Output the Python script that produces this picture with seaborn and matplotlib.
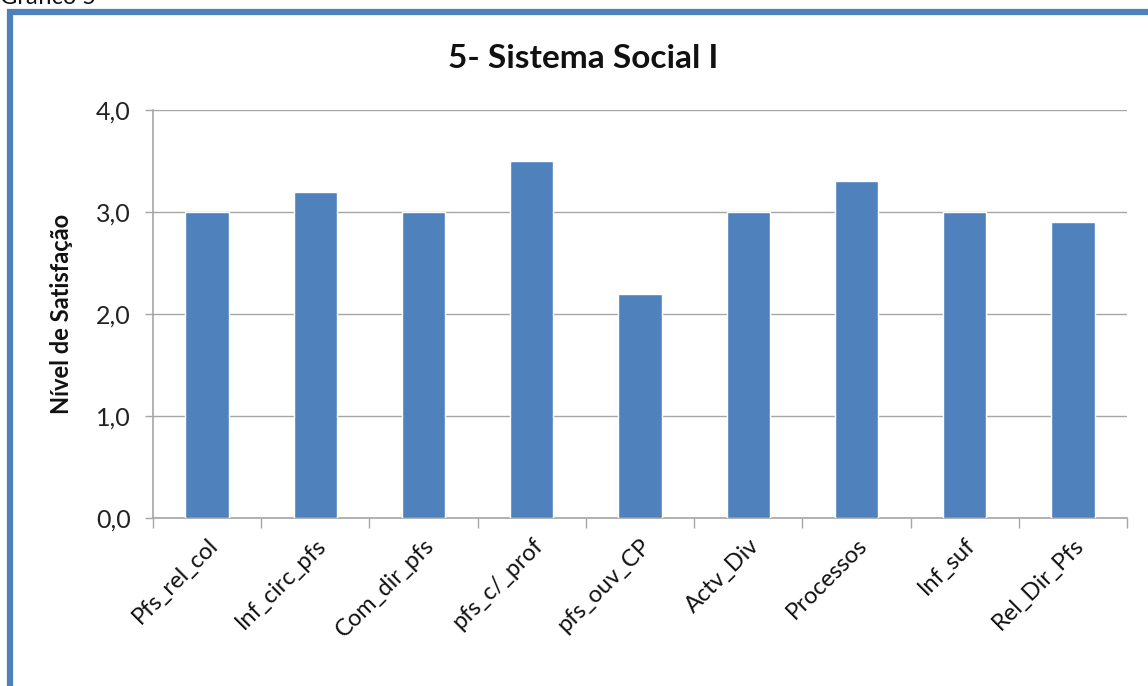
import matplotlib
matplotlib.use("Agg")
import matplotlib.pyplot as plt
import seaborn as sns
import pandas as pd
from matplotlib.patches import Rectangle
from matplotlib.ticker import FixedLocator, FuncFormatter

categories = ["Pfs_rel_col", "Inf_circ_pfs", "Com_dir_pfs", "pfs_c/_prof", "pfs_ouv_CP",
              "Actv_Div", "Processos", "Inf_suf", "Rel_Dir_Pfs"]
values = [3.0, 3.2, 3.0, 3.5, 2.2, 3.0, 3.3, 3.0, 2.9]
y_ticks = [0.0, 1.0, 2.0, 3.0, 4.0]
title = "5- Sistema Social I"
y_label = "Nível de Satisfação"

sns.set_theme(style="white")
plt.rcParams['font.family'] = ['Lato', 'DejaVu Sans']

df = pd.DataFrame({"cat": categories, "val": values})

W, H = 1148, 686
fig = plt.figure(figsize=(W / 100, H / 100), dpi=100)
fig.patch.set_facecolor("white")

ax = fig.add_axes([153 / W, 1 - 518 / H, (1127 - 153) / W, (518 - 110) / H])
sns.barplot(data=df, x="cat", y="val", color="#4F81BD", width=0.4, saturation=1, ax=ax, zorder=3)

ax.set_ylim(0, 4)
ax.set_xlim(-0.5, len(categories) - 0.5)
ax.yaxis.set_major_locator(FixedLocator(y_ticks))
ax.yaxis.set_major_formatter(FuncFormatter(lambda v, p: f"{v:.1f}".replace(".", ",")))
ax.grid(axis="y", color="#A6A6A6", linewidth=1.0, zorder=0)
ax.set_axisbelow(True)

for s in ["top", "right"]:
    ax.spines[s].set_visible(False)
for s in ["left", "bottom"]:
    ax.spines[s].set_color("#A6A6A6")
    ax.spines[s].set_linewidth(1.2)

ax.tick_params(axis="y", which="major", length=6, width=1.0, color="#A6A6A6", direction="out",
               left=True, labelsize=18, labelcolor="#222222", pad=10)
ax.tick_params(axis="x", which="major", length=0, labelsize=17, labelcolor="#111111", pad=12)
ax.set_xticks(range(len(categories)))
ax.set_xticklabels(categories, rotation=45, ha="right", rotation_mode="anchor")
ax.xaxis.set_minor_locator(FixedLocator([i - 0.5 for i in range(len(categories) + 1)]))
ax.tick_params(axis="x", which="minor", length=7, width=1.0, color="#A6A6A6", direction="out", bottom=True)

ax.set_xlabel("")
ax.set_ylabel(y_label, fontsize=17, fontweight="bold", color="#111111")
ax.yaxis.set_label_coords((73 - 153) / (1127 - 153), 0.5)

fig.text(583 / W, 1 - 58 / H, title, ha="center", va="center", fontsize=24, fontweight="bold", color="#111111")

# outer blue frame (clipped at the right and bottom like the reference)
frame = Rectangle((10 / W, -0.1), 1.2, 1 - 11.5 / H + 0.1, transform=fig.transFigure,
                  fill=False, edgecolor="#4F81BD", linewidth=4.5, zorder=10)
fig.patches.append(frame)

fig.text(0.0, 1 - 4 / H, "Gráfico 5", ha="left", va="baseline", fontsize=17, color="#111111")

fig.savefig("out.png", dpi=100, facecolor="white")
